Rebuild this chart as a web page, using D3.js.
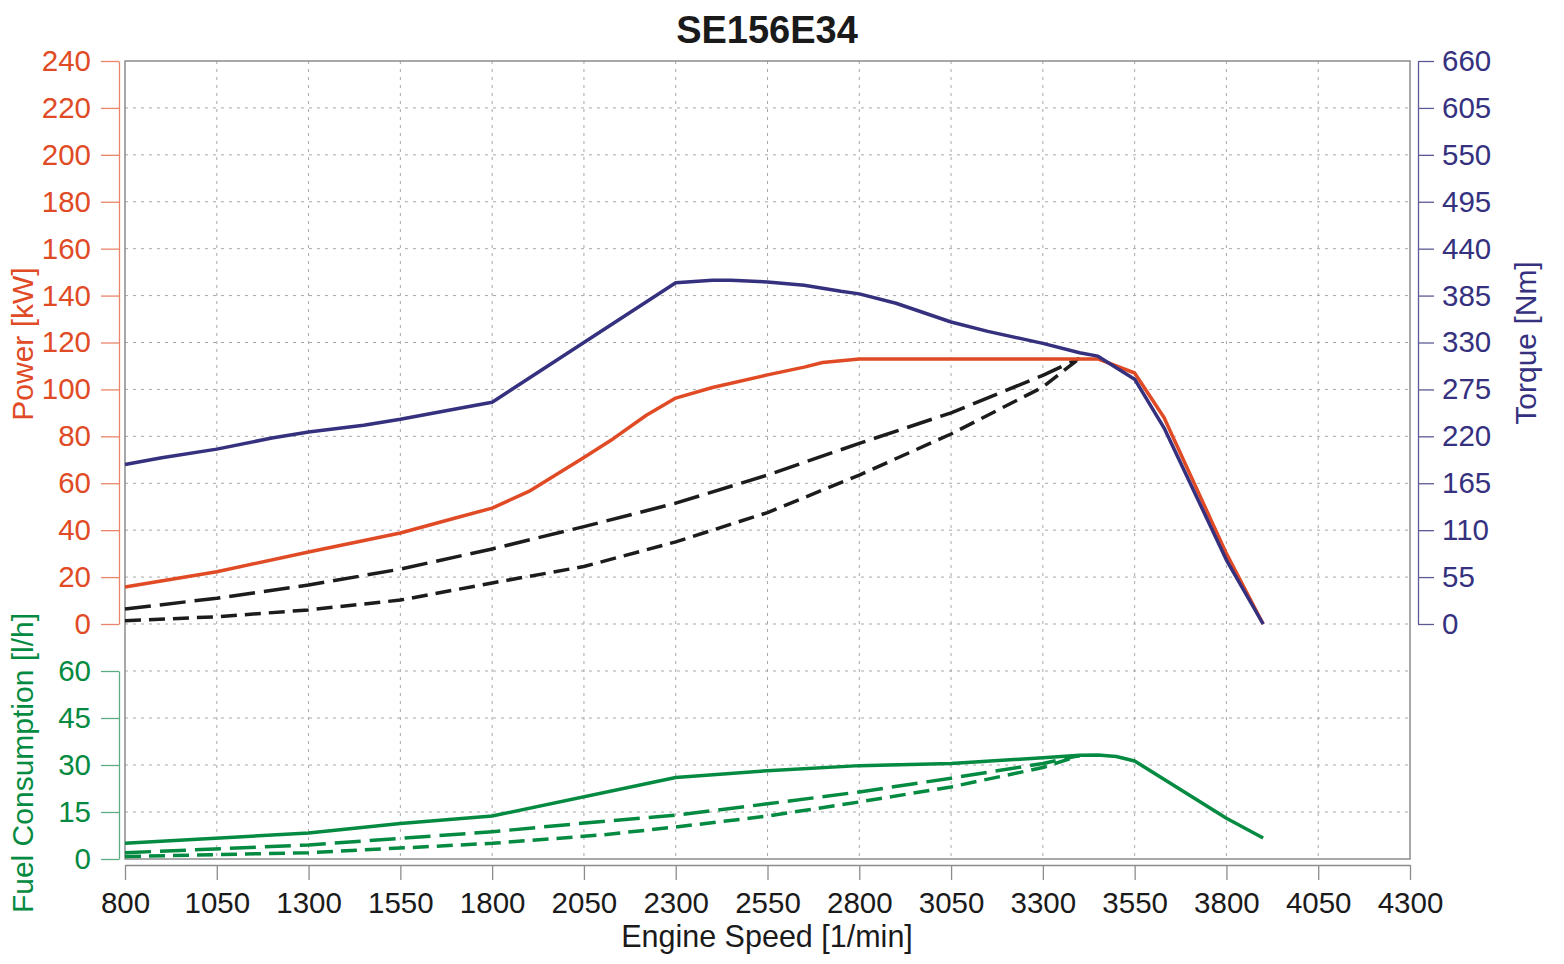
<!DOCTYPE html>
<html>
<head>
<meta charset="utf-8">
<script src="https://cdn.jsdelivr.net/npm/d3@7"></script>
<style>
  body { margin: 0; background: #fff; }
  svg { font-family: "Liberation Sans", Arial, sans-serif; }
</style>
</head>
<body>
<svg id="chart" width="1564" height="964"></svg>
<script>
// ---- data ----
const powerRpm = [800, 1050, 1300, 1550, 1700, 1800, 1900, 2050, 2130, 2220, 2300, 2400, 2550, 2650, 2700, 2800, 3450, 3550, 3630, 3800, 3900];
const powerKw  = [15.8, 22.3, 30.7, 38.8, 45.2, 49.4, 56.5, 71, 79, 89, 96.3, 100.8, 106.2, 109.5, 111.5, 113, 113, 107, 88, 30, 0];

const torqueRpm = [800, 900, 1050, 1200, 1300, 1450, 1550, 1700, 1800, 2300, 2400, 2450, 2550, 2650, 2750, 2800, 2900, 3050, 3150, 3300, 3400, 3450, 3550, 3630, 3800, 3900];
const torqueNm  = [187, 195, 205, 218, 225, 233, 240, 252, 260, 400, 403, 403, 401, 397, 390, 387, 376, 354, 343, 329, 318, 314, 287, 230, 75, 0];

// propeller curves (black dashed)
const propRpm   = [800, 1050, 1300, 1550, 1800, 2050, 2300, 2550, 2800, 3050, 3300, 3400];
const propLong  = [6.4, 11, 16.6, 23.4, 32, 41.5, 51.5, 63.5, 77, 90, 106, 113.3];
const propShort = [1.4, 3.1, 6, 10.2, 17.5, 24.5, 35, 47.5, 63.5, 81, 101, 113.3];

const fuelRpm = [800, 1300, 1550, 1800, 2300, 2550, 2800, 3050, 3300, 3400, 3450, 3500, 3550, 3800, 3900];
const fuelLh  = [5, 8.3, 11.3, 13.7, 26, 28.2, 29.8, 30.5, 32.3, 33.1, 33.2, 32.7, 31.3, 13, 6.7];

const fuelPropRpm   = [800, 1300, 1800, 2100, 2300, 2550, 2800, 3050, 3300, 3400];
const fuelPropLong  = [2, 4.5, 8.7, 12, 14, 17.6, 21.4, 25.8, 30.5, 33];
const fuelPropShort = [0.8, 2, 5, 7.7, 10.2, 13.7, 18.2, 23, 29.2, 33];

const xTicks      = d3.range(800, 4301, 250);
const powerTicks  = d3.range(0, 241, 20);
const torqueTicks = d3.range(0, 661, 55);
const fuelTicks   = [0, 15, 30, 45, 60];

// ---- colours ----
const cPower = "#e04b26";
const cTorque = "#35317f";
const cFuel = "#058a41";
const cBlack = "#1c1c1c";
const cFrame = "#8c8c8c";
const cGrid = "#a8a8a8";

const svg = d3.select("#chart");

// plot box
const box = { left: 125, right: 1410, top: 61, powerBottom: 624, fuelTop: 671, bottom: 859 };

const x  = d3.scaleLinear().domain([800, 4300]).range([box.left, box.right]);
const yP = d3.scaleLinear().domain([0, 240]).range([box.powerBottom, box.top]);
const yT = d3.scaleLinear().domain([0, 660]).range([box.powerBottom, box.top]);
const yF = d3.scaleLinear().domain([0, 60]).range([box.bottom, box.fuelTop]);

// grid
const grid = svg.append("g").attr("stroke", cGrid).attr("stroke-width", 1).attr("stroke-dasharray", "3,5");
xTicks.slice(1, -1).forEach(v => {
  grid.append("line").attr("x1", x(v)).attr("x2", x(v)).attr("y1", box.top).attr("y2", box.bottom);
});
powerTicks.slice(0, -1).forEach(v => {
  grid.append("line").attr("x1", box.left).attr("x2", box.right).attr("y1", yP(v)).attr("y2", yP(v));
});
fuelTicks.slice(1).forEach(v => {
  grid.append("line").attr("x1", box.left).attr("x2", box.right).attr("y1", yF(v)).attr("y2", yF(v));
});

// frame
svg.append("rect")
  .attr("x", box.left).attr("y", box.top)
  .attr("width", box.right - box.left).attr("height", box.bottom - box.top)
  .attr("fill", "none").attr("stroke", cFrame).attr("stroke-width", 1.5);

// axes
function styleAxis(g, lineColor, textColor) {
  g.selectAll("path.domain").attr("stroke", lineColor).attr("stroke-width", 1.3);
  g.selectAll(".tick line").attr("stroke", lineColor).attr("stroke-width", 1.3);
  g.selectAll(".tick text").attr("fill", textColor).style("font-size", "29.5px");
}

const axP = svg.append("g").attr("transform", "translate(119,0)")
  .call(d3.axisLeft(yP).tickValues(powerTicks).tickSize(18).tickSizeOuter(0).tickPadding(10));
styleAxis(axP, "#e9856b", cPower);

const axF = svg.append("g").attr("transform", "translate(119,0)")
  .call(d3.axisLeft(yF).tickValues(fuelTicks).tickSize(18).tickSizeOuter(0).tickPadding(10));
styleAxis(axF, "#5cae82", cFuel);

const axT = svg.append("g").attr("transform", "translate(1418,0)")
  .call(d3.axisRight(yT).tickValues(torqueTicks).tickSize(16).tickSizeOuter(0).tickPadding(8));
styleAxis(axT, "#5c5a96", cTorque);

const axX = svg.append("g").attr("transform", "translate(0,865)")
  .call(d3.axisBottom(x).tickValues(xTicks).tickFormat(d3.format("d")).tickSize(15).tickSizeOuter(0).tickPadding(12));
styleAxis(axX, cFrame, "#1a1a1a");

// lines
const line = (xs, ys, yScale) => d3.line().x((d, i) => x(xs[i])).y(d => yScale(d))(ys);

function drawLine(xs, ys, yScale, color, dash) {
  svg.append("path")
    .attr("d", line(xs, ys, yScale))
    .attr("fill", "none")
    .attr("stroke", color)
    .attr("stroke-width", 3.5)
    .attr("stroke-linejoin", "round")
    .attr("stroke-dasharray", dash || null);
}

drawLine(propRpm, propLong, yP, cBlack, "26,9");
drawLine(propRpm, propShort, yP, cBlack, "16,8");
drawLine(fuelPropRpm, fuelPropLong, yF, cFuel, "26,9");
drawLine(fuelPropRpm, fuelPropShort, yF, cFuel, "16,8");
drawLine(fuelRpm, fuelLh, yF, cFuel);
drawLine(powerRpm, powerKw, yP, cPower);
drawLine(torqueRpm, torqueNm, yT, cTorque);

// titles
svg.append("text")
  .attr("x", 767).attr("y", 43)
  .attr("text-anchor", "middle")
  .style("font-size", "38px").style("font-weight", "bold")
  .attr("fill", "#1a1a1a")
  .text("SE156E34");

svg.append("text")
  .attr("x", 767).attr("y", 947)
  .attr("text-anchor", "middle")
  .style("font-size", "30.5px")
  .attr("fill", "#1a1a1a")
  .text("Engine Speed [1/min]");

svg.append("text")
  .attr("transform", "translate(33,344) rotate(-90)")
  .attr("text-anchor", "middle")
  .style("font-size", "30px")
  .attr("fill", cPower)
  .text("Power [kW]");

svg.append("text")
  .attr("transform", "translate(33,763) rotate(-90)")
  .attr("text-anchor", "middle")
  .style("font-size", "30px")
  .attr("fill", cFuel)
  .text("Fuel Consumption [l/h]");

svg.append("text")
  .attr("transform", "translate(1536,343) rotate(-90)")
  .attr("text-anchor", "middle")
  .style("font-size", "30px")
  .attr("fill", cTorque)
  .text("Torque [Nm]");
</script>
</body>
</html>
